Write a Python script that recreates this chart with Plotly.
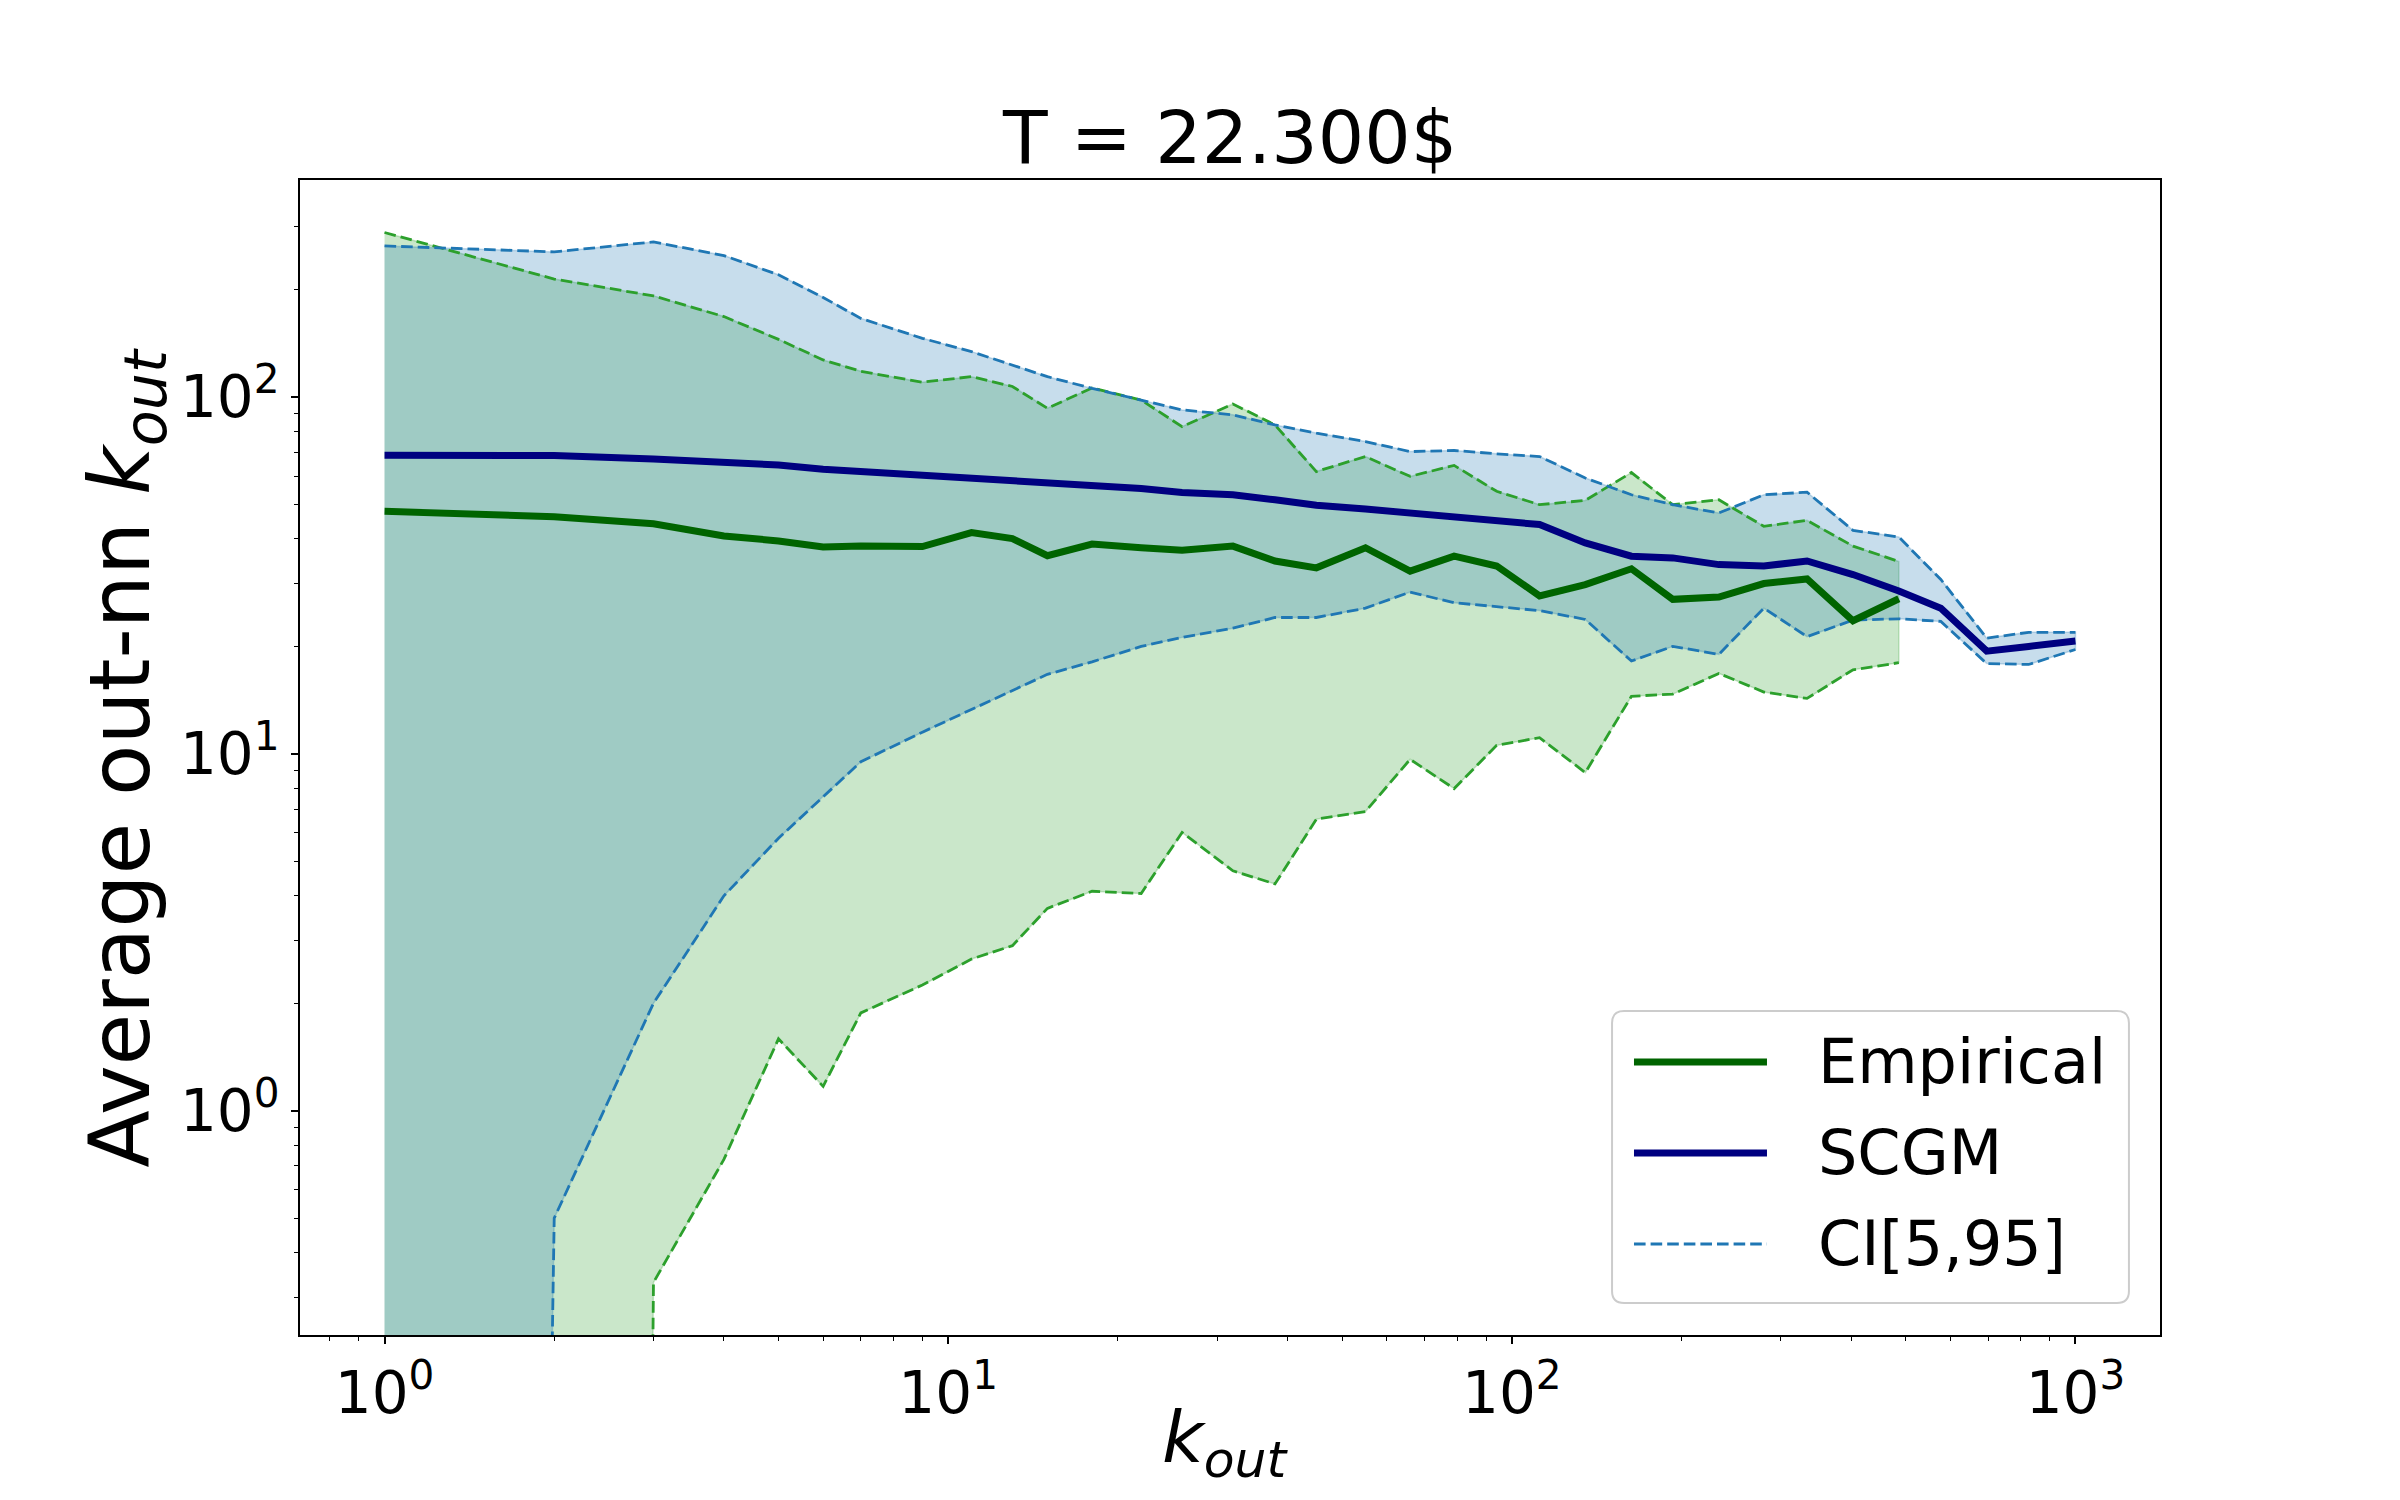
import plotly.graph_objects as go

# degree bins (k_out)
k_out = [1, 2, 3, 4, 5, 6, 7, 9, 11, 13, 15, 18, 22, 26, 32, 38, 45, 55, 66, 79,
         94, 112, 135, 163, 193, 233, 280, 334, 403, 486, 577, 696, 826, 1000]

# empirical network (stops at k_out = 486)
emp_mean = [47.8, 46.2, 44.1, 40.8, 39.5, 38.0, 38.2, 38.1, 41.7, 40.1, 35.9, 38.7,
            37.8, 37.2, 38.2, 34.7, 33.2, 37.8, 32.5, 35.8, 33.6, 27.7, 29.8, 33.0,
            27.1, 27.5, 30.0, 30.9, 23.6, 27.2]
emp_hi = [289, 214, 192, 168, 145, 127, 118, 110, 114, 107, 93, 106, 98, 82.6, 95.6,
          83.5, 61.8, 68.1, 59.9, 64.3, 54.4, 49.9, 51.3, 61.4, 49.9, 51.5, 43.4,
          45.1, 38.2, 34.6]
emp_lo = [0, 0, 0.33, 0.73, 1.59, 1.17, 1.88, 2.25, 2.66, 2.9, 3.69, 4.12, 4.06, 6.02,
          4.7, 4.32, 6.56, 6.89, 9.65, 7.99, 10.56, 11.1, 8.86, 14.5, 14.7, 16.8, 14.9,
          14.3, 17.2, 18.0]

# SCGM ensemble
scgm_mean = [68.7, 68.5, 67.0, 65.8, 64.5, 62.7, 61.8, 60.4, 59.6, 58.8, 57.5, 56.8,
             55.4, 54.0, 53.2, 51.5, 49.7, 48.5, 47.3, 45.8, 44.6, 43.9, 39.0, 35.8,
             35.4, 33.9, 33.6, 34.7, 31.8, 28.6, 25.6, 19.4, 20.0, 20.7]
scgm_hi = [265, 255, 272, 249, 220, 190, 166, 146, 134, 123, 114, 105.7, 98, 92, 89.1,
           83.5, 79.2, 75, 70.3, 70.8, 69.3, 68.1, 59.3, 53.2, 49.9, 47.3, 53.2, 54.1,
           42.3, 40.5, 30.8, 21.1, 21.9, 21.9]
scgm_lo = [0, 0.5, 2.0, 4.0, 5.8, 7.6, 9.5, 11.5, 13.3, 15.0, 16.7, 18.1, 20.0, 21.2,
           22.5, 24.1, 24.1, 25.6, 28.4, 26.5, 25.8, 25.2, 23.8, 18.2, 20.0, 19.0, 25.6,
           21.3, 23.7, 23.9, 23.5, 17.9, 17.8, 19.6]

k_emp = k_out[:len(emp_mean)]

FONT = "DejaVu Sans"
BLUE = "#1f77b4"
GREEN = "#2ca02c"
DASH = "11.6px,5px"
LW = 7


def clip(vals):
    # zeros can't sit on a log axis: push them far below, like matplotlib's clipping
    return [v if v > 0 else 1e-30 for v in vals]


def band(x, hi, lo, rgba):
    return go.Scatter(x=x + x[::-1], y=hi + clip(lo)[::-1], fill="toself",
                      fillcolor=rgba, mode="lines",
                      line=dict(color=rgba, width=1.5),
                      showlegend=False, hoverinfo="skip")


fig = go.Figure()
fig.add_trace(band(k_emp, emp_hi, emp_lo, "rgba(44,160,44,0.25)"))
fig.add_trace(band(k_out, scgm_hi, scgm_lo, "rgba(31,119,180,0.25)"))

for xs, ys, col in [(k_emp, emp_hi, GREEN), (k_emp, emp_lo, GREEN),
                    (k_out, scgm_hi, BLUE), (k_out, scgm_lo, BLUE)]:
    fig.add_trace(go.Scatter(x=xs, y=clip(ys), mode="lines",
                             line=dict(color=col, width=2.8, dash=DASH),
                             showlegend=False))

fig.add_trace(go.Scatter(x=k_emp, y=emp_mean, mode="lines", name="Empirical",
                         line=dict(color="darkgreen", width=LW)))
fig.add_trace(go.Scatter(x=k_out, y=scgm_mean, mode="lines", name="SCGM",
                         line=dict(color="navy", width=LW)))

x_minor = [0.8, 0.9] + [m * 10 ** e for e in range(0, 3) for m in range(2, 10)]
y_minor = [m / 10 for m in range(3, 10)] + [m * 10 ** e for e in range(0, 2) for m in range(2, 10)] + [200, 300]

axis_common = dict(type="log", showgrid=False, zeroline=False, showline=True,
                   mirror=True, linecolor="black", linewidth=1.7,
                   ticks="outside", ticklen=7, tickwidth=1.7, tickcolor="black",
                   tickfont=dict(family=FONT, size=58, color="black"))

fig.update_xaxes(range=[-0.15, 3.15], tickvals=[1, 10, 100, 1000],
                 ticktext=["10<sup>0</sup>", "10<sup>1</sup>", "10<sup>2</sup>", "10<sup>3</sup>"],
                 minor=dict(tickvals=x_minor, ticks="outside", ticklen=4,
                            tickwidth=1.2, tickcolor="black"),
                 **axis_common)
fig.update_yaxes(range=[-0.6286, 2.608], tickvals=[1, 10, 100],
                 ticktext=["10<sup>0</sup>", "10<sup>1</sup>", "10<sup>2</sup>"],
                 minor=dict(tickvals=y_minor, ticks="outside", ticklen=4,
                            tickwidth=1.2, tickcolor="black"),
                 **axis_common)

# legend drawn by hand so the line samples are as long as matplotlib's
# (paper coords here are relative to the plot area)
lx0, lx1, ly0, ly1, rx, ry = 0.7054, 0.9833, 0.0277, 0.2805, 0.00645, 0.0104
box = (f"M{lx0+rx},{ly0} L{lx1-rx},{ly0} Q{lx1},{ly0} {lx1},{ly0+ry} "
       f"L{lx1},{ly1-ry} Q{lx1},{ly1} {lx1-rx},{ly1} L{lx0+rx},{ly1} "
       f"Q{lx0},{ly1} {lx0},{ly1-ry} L{lx0},{ly0+ry} Q{lx0},{ly0} {lx0+rx},{ly0} Z")
shapes = [dict(type="path", path=box, xref="paper", yref="paper",
               fillcolor="rgba(255,255,255,0.8)", line=dict(color="#cccccc", width=2))]
legend_rows = [("Empirical", "darkgreen", LW, "solid", 0.2364),
               ("SCGM", "navy", LW, "solid", 0.1576),
               ("CI[5,95]", BLUE, 2.8, DASH, 0.0788)]
annotations = []
for label, col, w, dash, yy in legend_rows:
    shapes.append(dict(type="line", xref="paper", yref="paper", x0=0.7172, x1=0.7887,
                       y0=yy, y1=yy, line=dict(color=col, width=w, dash=dash)))
    annotations.append(dict(text=label, xref="paper", yref="paper", x=0.8151, y=yy,
                            xanchor="left", yanchor="middle", showarrow=False,
                            font=dict(family=FONT, size=62, color="black")))

annotations.append(dict(text="Average out-nn <i>k</i><sub><i>out</i></sub>",
                        xref="paper", yref="paper", x=-0.094, y=0.5, textangle=-90,
                        xanchor="center", yanchor="middle", showarrow=False,
                        font=dict(family=FONT, size=84, color="black")))
annotations.append(dict(text="<i>k</i><sub><i>out</i></sub>",
                        xref="paper", yref="paper", x=0.4975, y=-0.093,
                        xanchor="center", yanchor="middle", showarrow=False,
                        font=dict(family=FONT, size=72, color="black")))

# the page body adds an 8px margin, so the figure is 8px smaller than the window
fig.update_layout(
    width=2392, height=1492,
    margin=dict(l=292, r=240, t=172, b=165),
    paper_bgcolor="white", plot_bgcolor="white",
    showlegend=False,
    title=dict(text="T = 22.300$", x=0.5109, xanchor="center", y=0.9132,
               yanchor="middle", font=dict(family=FONT, size=73, color="black")),
    shapes=shapes, annotations=annotations,
)

fig.write_html("out.html")
